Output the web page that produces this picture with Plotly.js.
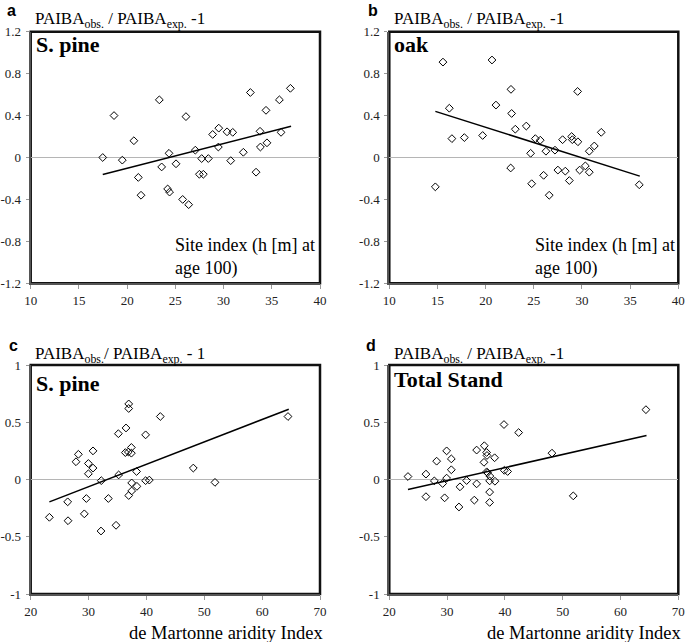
<!DOCTYPE html>
<html><head><meta charset="utf-8">
<script src="https://cdn.plot.ly/plotly-3.0.1.min.js"></script>
<style>html,body{margin:0;padding:0;background:#fff}#chart{width:685px;height:642px}</style>
</head><body><div id="chart"></div>
<script>
// ---- Data ----
// Panel a: S. pine vs site index
const siteA = [17.47,18.64,19.5,20.7,21.16,21.44,23.34,23.58,24.34,24.2,24.4,25.07,25.76,26.38,26.1,27.07,27.49,27.9,27.73,28.42,28.87,29.5,29.46,30.36,30.95,30.74,32.05,32.78,33.37,33.78,33.82,34.4,34.5,35.79,35.96,36.93];
const paibaA = [0.0,0.40,-0.025,0.16,-0.19,-0.36,0.55,-0.09,0.04,-0.30,-0.33,-0.06,-0.40,-0.45,0.39,0.07,-0.16,-0.16,-0.01,-0.01,0.22,0.28,0.10,0.245,0.24,-0.03,0.05,0.62,-0.14,0.25,0.10,0.45,0.14,0.55,0.24,0.66];
const trendA_x = [17.47, 37.0];
const trendA_y = [-0.162, 0.299];

// Panel b: oak vs site index
const siteB = [15.57,14.78,16.23,16.5,17.79,19.69,20.66,21.07,22.63,22.7,22.6,23.08,24.22,24.67,24.78,25.16,25.67,26.02,26.26,26.6,27.2,27.5,27.99,28.27,28.69,28.93,29.0,29.55,29.58,29.76,30.35,30.76,30.76,31.28,32.0,35.95];
const paibaB = [0.91,-0.28,0.47,0.18,0.19,0.21,0.93,0.50,0.65,0.42,-0.10,0.27,0.30,0.04,-0.25,0.18,0.165,-0.17,0.06,-0.36,0.07,-0.12,0.17,-0.13,-0.22,0.20,0.17,0.63,0.15,-0.12,-0.08,0.06,-0.14,0.11,0.24,-0.26];
const trendB_x = [14.78, 36.0];
const trendB_y = [0.44, -0.178];

// Panel c: S. pine vs de Martonne aridity index
const aridC = [23.23,26.39,26.45,27.83,28.24,29.27,29.62,29.97,29.97,30.77,30.77,32.2,32.15,33.42,34.75,35.15,35.2,36.47,36.36,36.94,36.94,36.88,36.94,37.4,37.4,37.45,37.45,38.3,38.36,39.86,39.86,40.5,42.4,48.1,51.85,64.47];
const paibaC = [-0.33,-0.195,-0.36,0.155,0.22,-0.30,-0.166,0.14,0.05,0.25,0.10,-0.01,-0.45,-0.166,-0.40,0.40,0.04,0.45,0.235,0.66,0.62,0.24,-0.14,0.28,0.23,-0.03,-0.10,0.07,-0.06,0.39,-0.01,-0.005,0.55,0.10,-0.025,0.55];
const trendC_x = [23.23, 64.6];
const trendC_y = [-0.195, 0.614];

// Panel d: total stand vs de Martonne aridity index
const aridD = [23.23,26.34,26.34,27.79,28.19,29.23,29.57,29.92,29.92,30.73,30.73,32.23,32.05,33.38,34.71,35.11,35.11,36.44,36.38,36.84,36.9,36.85,37.0,37.4,37.36,37.36,37.36,38.22,38.28,39.84,39.9,40.47,42.38,48.14,51.83,64.4];
const paibaD = [0.026,0.047,-0.15,-0.012,0.16,-0.035,-0.16,0.25,0.012,0.18,0.085,-0.064,-0.24,-0.009,-0.18,0.257,-0.038,0.295,0.15,0.236,0.21,0.067,0.058,0.03,-0.012,-0.11,-0.20,0.19,-0.015,0.48,0.08,0.07,0.41,0.23,-0.143,0.61];
const trendD_x = [23.23, 64.5];
const trendD_y = [-0.088, 0.385];

// Tick values / labels
const siteTicks = [10,15,20,25,30,35,40];
const siteYTicks = [-1.2,-0.8,-0.4,0,0.4,0.8,1.2];
const siteYLabels = ['-1.2','-0.8','-0.4','0','0.4','0.8','1.2'];
const aridTicks = [20,30,40,50,60,70];
const aridYTicks = [-1,-0.5,0,0.5,1];
const aridYLabels = ['-1','-0.5','0','0.5','1'];

const panelLetters = ['a','b','c','d'];
const panelNames = ['S. pine','oak','S. pine','Total Stand'];
const yTitles = [
  'PAIBA<sub>obs.</sub> / PAIBA<sub>exp.</sub> -1',
  'PAIBA<sub>obs.</sub> / PAIBA<sub>exp.</sub> -1',
  'PAIBA<sub>obs.</sub>/ PAIBA<sub>exp.</sub> - 1',
  'PAIBA<sub>obs.</sub> / PAIBA<sub>exp.</sub> -1'
];
const siteLabel = 'Site index (h [m] at<br>age 100)';
const aridLabel = 'de Martonne aridity Index';

// ---- Layout helpers ----
const W = 685, H = 642;
const px = v => v / W;
const py = v => 1 - v / H;
const SERIF = 'Liberation Serif';
const SANS = 'Liberation Sans';

const scatter = (x, y, xa, ya) => ({
  x, y, xaxis: xa, yaxis: ya, type: 'scatter', mode: 'markers',
  marker: {symbol: 'diamond-open', size: 6, color: '#000', line: {width: 1, color: '#000'}},
  hoverinfo: 'x+y', showlegend: false
});
const trend = (x, y, xa, ya) => ({
  x, y, xaxis: xa, yaxis: ya, type: 'scatter', mode: 'lines',
  line: {color: '#000', width: 1.5}, hoverinfo: 'skip', showlegend: false
});

const data = [
  trend(trendA_x, trendA_y, 'x', 'y'), scatter(siteA, paibaA, 'x', 'y'),
  trend(trendB_x, trendB_y, 'x2', 'y2'), scatter(siteB, paibaB, 'x2', 'y2'),
  trend(trendC_x, trendC_y, 'x3', 'y3'), scatter(aridC, paibaC, 'x3', 'y3'),
  trend(trendD_x, trendD_y, 'x4', 'y4'), scatter(aridD, paibaD, 'x4', 'y4')
];

const tickFont = {family: SERIF, size: 13, color: '#222'};
const xAx = (dom, anchor, range, ticks) => ({
  domain: dom, anchor, range, tickvals: ticks, ticktext: ticks.map(String),
  showgrid: false, zeroline: false, showline: true, linecolor: '#555', linewidth: 2,
  ticks: 'outside', ticklen: 4, tickcolor: '#999', tickwidth: 1,
  tickfont: tickFont, fixedrange: true
});
const yAx = (dom, anchor, range, ticks, labels) => ({
  domain: dom, anchor, range, tickvals: ticks, ticktext: labels,
  showgrid: false, zeroline: true, zerolinecolor: '#b5b5b5', zerolinewidth: 1.5,
  showline: true, linecolor: '#555', linewidth: 2,
  ticks: 'outside', ticklen: 3, tickcolor: '#999', tickwidth: 1,
  ticklabelstandoff: 2, tickfont: tickFont, fixedrange: true
});

const colL = [px(30.7), px(320)];
const colR = [px(389.3), px(678.3)];
const rowT = [py(283.3), py(31.7)];
const rowB = [py(594), py(365)];

const layout = {
  width: W, height: H,
  margin: {l: 0, r: 0, t: 0, b: 0},
  paper_bgcolor: '#fff', plot_bgcolor: '#fff',
  font: {family: SERIF, color: '#000'},
  showlegend: false,
  xaxis: xAx(colL, 'y', [10, 40], siteTicks),
  yaxis: yAx(rowT, 'x', [-1.2, 1.2], siteYTicks, siteYLabels),
  xaxis2: xAx(colR, 'y2', [10, 40], siteTicks),
  yaxis2: yAx(rowT, 'x2', [-1.2, 1.2], siteYTicks, siteYLabels),
  xaxis3: xAx(colL, 'y3', [20, 70], aridTicks),
  yaxis3: yAx(rowB, 'x3', [-1, 1], aridYTicks, aridYLabels),
  xaxis4: xAx(colR, 'y4', [20, 70], aridTicks),
  yaxis4: yAx(rowB, 'x4', [-1, 1], aridYTicks, aridYLabels),
  shapes: [['x','y'],['x2','y2'],['x3','y3'],['x4','y4']].map(([xa, ya]) => ({
    type: 'rect', xref: xa + ' domain', yref: ya + ' domain', x0: 0, x1: 1, y0: 0, y1: 1,
    line: {color: '#111', width: 2.5}, layer: 'below'
  })),
  annotations: []
};

const letterPos = [[5, 10], [366, 10], [7, 346], [364, 346]];
const titlePos = [[33, 20], [392, 20], [33, 355], [392, 355]];
const namePos = [[34, 44], [392, 44], [34, 384], [392, 379]];
letterPos.forEach(([x, y], i) => layout.annotations.push({
  xref: 'paper', yref: 'paper', x: px(x), y: py(y), xanchor: 'left', yanchor: 'middle',
  text: '<b>' + panelLetters[i] + '</b>', showarrow: false,
  font: {family: SANS, size: 16, color: '#000'}
}));
titlePos.forEach(([x, y], i) => layout.annotations.push({
  xref: 'paper', yref: 'paper', x: px(x), y: py(y), xanchor: 'left', yanchor: 'middle',
  text: yTitles[i], showarrow: false,
  font: {family: SERIF, size: 17, color: '#000'}
}));
namePos.forEach(([x, y], i) => layout.annotations.push({
  xref: 'paper', yref: 'paper', x: px(x), y: py(y), xanchor: 'left', yanchor: 'middle',
  text: '<b>' + panelNames[i] + '</b>', showarrow: false,
  font: {family: SERIF, size: 22, color: '#000'}
}));
[[173, 233], [532.7, 233]].forEach(([x, y]) => layout.annotations.push({
  xref: 'paper', yref: 'paper', x: px(x), y: py(y), xanchor: 'left', yanchor: 'top',
  align: 'left', text: siteLabel, showarrow: false,
  font: {family: SERIF, size: 18, color: '#000'}
}));
[[325, 633], [683, 633]].forEach(([x, y]) => layout.annotations.push({
  xref: 'paper', yref: 'paper', x: px(x), y: py(y), xanchor: 'right', yanchor: 'middle',
  text: aridLabel, showarrow: false,
  font: {family: SERIF, size: 18.5, color: '#000'}
}));

Plotly.newPlot('chart', data, layout, {staticPlot: true, displayModeBar: false});
</script></body></html>
